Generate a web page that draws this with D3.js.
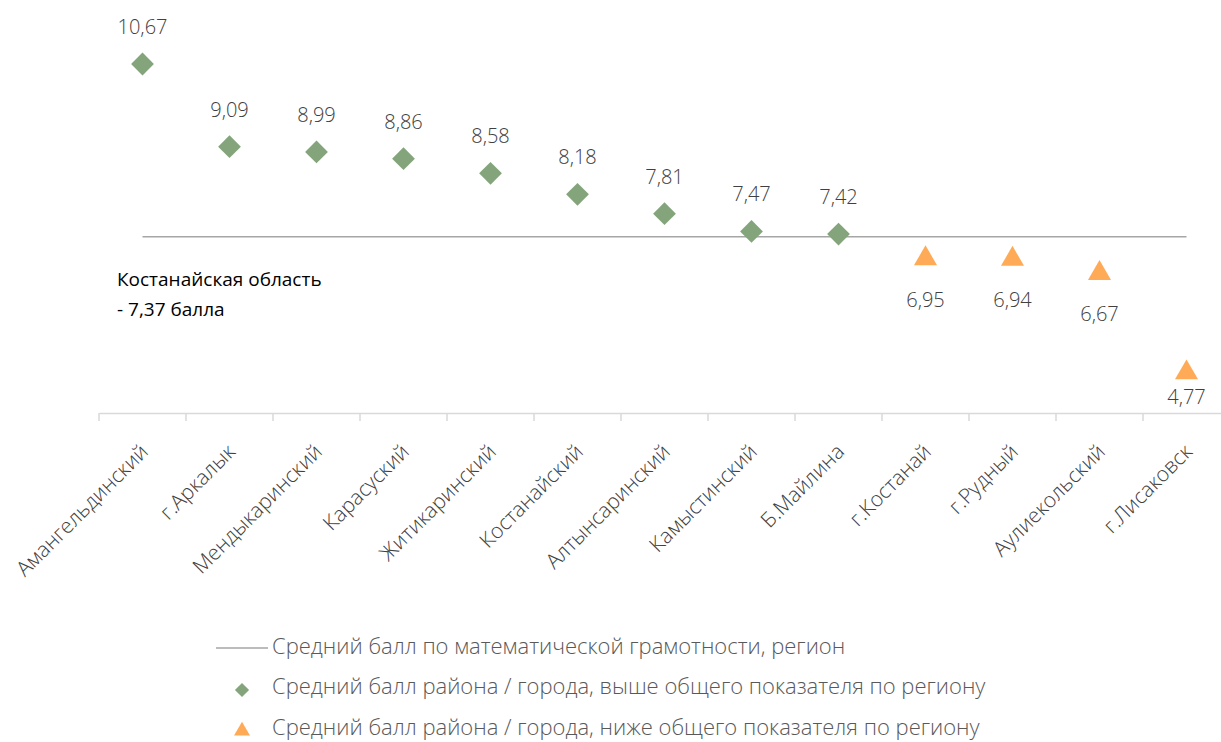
<!DOCTYPE html>
<html><head><meta charset="utf-8">
<script src="https://cdn.jsdelivr.net/npm/d3@7"></script>
<style>
body{margin:0;background:#fff;}
svg{display:block;font-family:"Open Sans","Noto Sans",sans-serif;}
</style></head>
<body><svg id="c" width="1221" height="742"></svg>
<script>
const categories = ["Амангельдинский","г.Аркалык","Мендыкаринский","Карасуский","Житикаринский","Костанайский","Алтынсаринский","Камыстинский","Б.Майлина","г.Костанай","г.Рудный","Аулиекольский","г.Лисаковск"];
const values = [10.67,9.09,8.99,8.86,8.58,8.18,7.81,7.47,7.42,6.95,6.94,6.67,4.77];
const regionAvg = 7.37;
const legendLabels = ["Средний балл по математической грамотности, регион","Средний балл района / города, выше общего показателя по региону","Средний балл района / города, ниже общего показателя по региону"];
const annotation = ["Костанайская область","- 7,37 балла"];

const green = "#84A57B", orange = "#FFAA57";
const svg = d3.select("#c");
const x = d3.scaleBand().domain(categories).range([99,1230]).padding(0);
const y = d3.scaleLinear().domain([4,12]).range([413,-5.6]);
const fmt = v => d3.format(".2f")(v).replace(".",",");

// axis
const ax = svg.append("g").attr("transform","translate(0,413)")
  .call(d3.axisBottom(x).tickSize(0).tickFormat(""));
ax.select(".domain").attr("stroke","#d9d9d9").attr("stroke-width",1.5);
svg.append("g").selectAll("line").data(categories).join("line")
  .attr("x1",d=>x(d)).attr("x2",d=>x(d)).attr("y1",413).attr("y2",421)
  .attr("stroke","#d9d9d9").attr("stroke-width",1.5);
svg.append("g").selectAll("text").data(categories).join("text")
  .attr("transform",d=>`translate(${x(d)+x.bandwidth()/2+7},${453}) rotate(-45)`)
  .attr("text-anchor","end").attr("font-size",21).attr("font-weight",300)
  .attr("fill","#404040").text(d=>d);

// average line
svg.append("line").attr("x1",x(categories[0])+x.bandwidth()/2)
  .attr("x2",x(categories[categories.length-1])+x.bandwidth()/2)
  .attr("y1",y(regionAvg)).attr("y2",y(regionAvg))
  .attr("stroke","#a6a6a6").attr("stroke-width",1.5);

const data = categories.map((c,i)=>({c,v:values[i],above:values[i]>=regionAvg}));
const diamond = d3.symbol().type(d3.symbolSquare).size(260);
const tri = d3.symbol().type(d3.symbolTriangle).size(230);
const g = svg.append("g");
g.selectAll("path").data(data).join("path")
  .attr("transform",d=>`translate(${x(d.c)+x.bandwidth()/2},${y(d.v)})`+(d.above?" rotate(45)":""))
  .attr("d",d=>d.above?diamond():tri())
  .attr("fill",d=>d.above?green:orange);
g.selectAll("text").data(data).join("text")
  .attr("x",d=>x(d.c)+x.bandwidth()/2)
  .attr("y",d=>d.above? y(d.v)-37 : Math.min(y(d.v)+41, 397))
  .attr("dy","0.35em").attr("text-anchor","middle")
  .attr("font-size",20).attr("font-weight",300).attr("fill","#404040")
  .text(d=>fmt(d.v));

// annotation
svg.append("g").selectAll("text").data(annotation).join("text")
  .attr("x",117).attr("y",(d,i)=>286+i*30).attr("font-size",19)
  .attr("fill","#000").text(d=>d);

// legend
const lg = svg.append("g");
lg.append("line").attr("x1",216).attr("x2",268).attr("y1",648).attr("y2",648)
  .attr("stroke","#a6a6a6").attr("stroke-width",1.5);
lg.append("path").attr("transform","translate(242,690) rotate(45)")
  .attr("d",d3.symbol().type(d3.symbolSquare).size(100)()).attr("fill",green);
lg.append("path").attr("transform","translate(242,731)")
  .attr("d",d3.symbol().type(d3.symbolTriangle).size(110)()).attr("fill",orange);
lg.selectAll("text").data(legendLabels).join("text")
  .attr("x",272).attr("y",(d,i)=>647+i*40.5).attr("dy","0.3em")
  .attr("font-size",22).attr("font-weight",300).attr("fill","#595959").text(d=>d);
</script></body></html>
